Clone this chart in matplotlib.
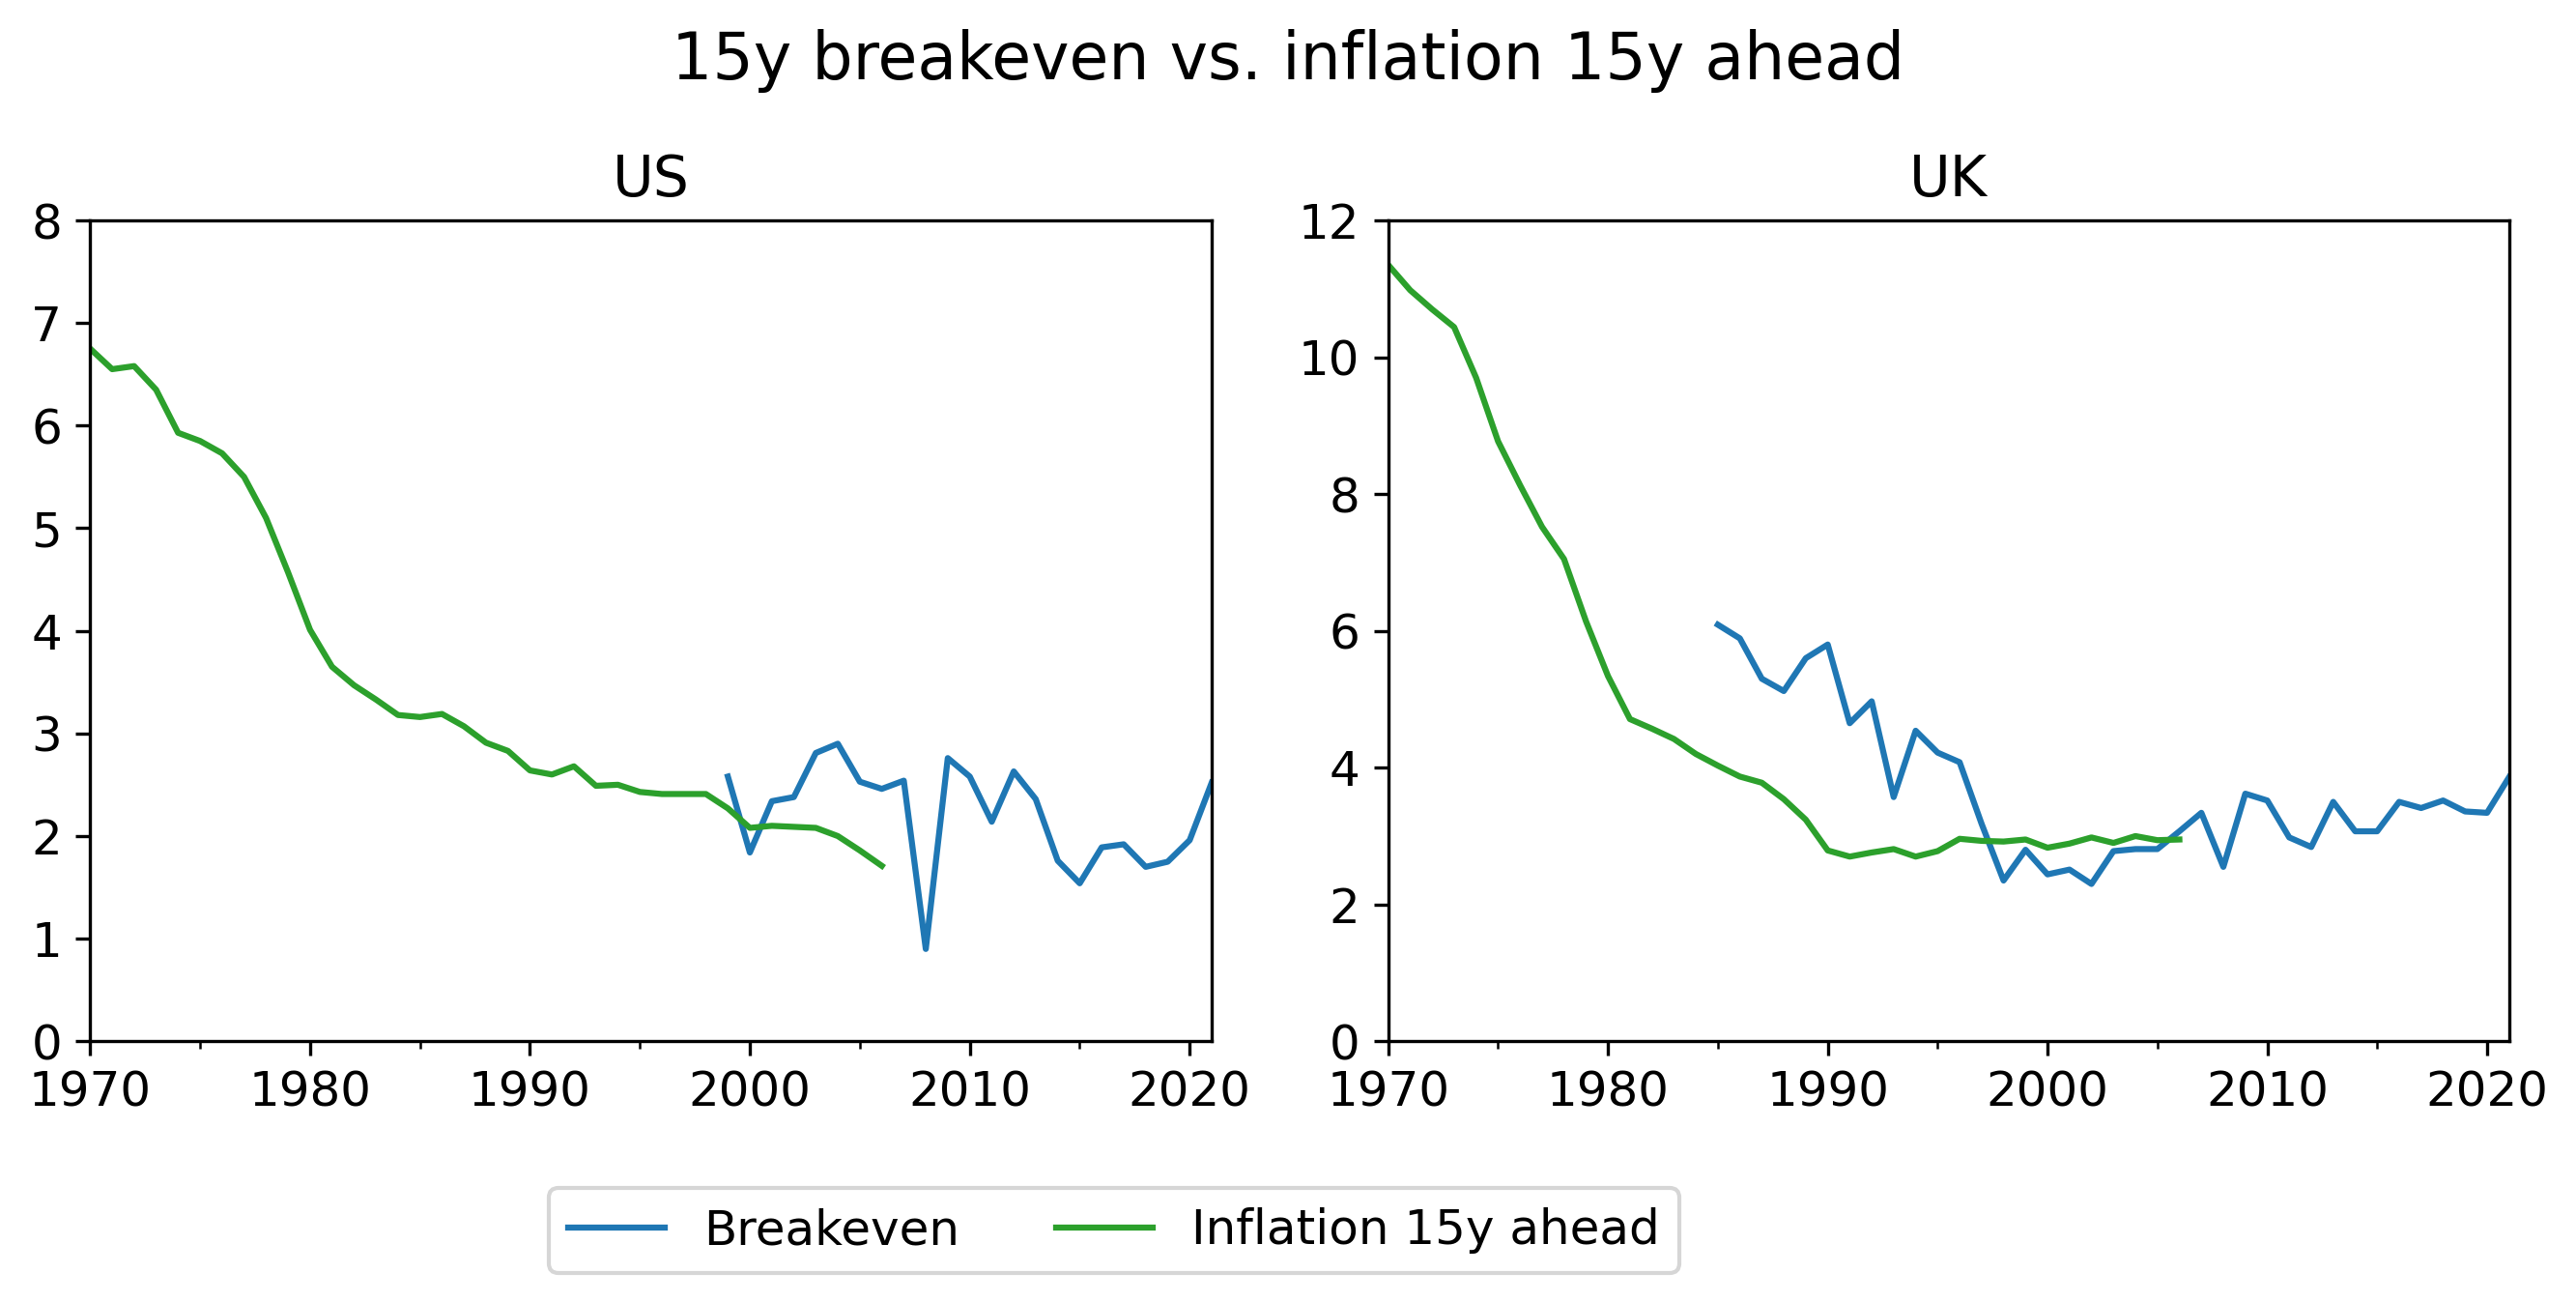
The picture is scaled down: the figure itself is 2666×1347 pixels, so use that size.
"""15y breakeven vs. realised inflation over the following 15 years, US and UK."""
import numpy as np
import matplotlib
matplotlib.use("Agg")
import matplotlib.pyplot as plt
from matplotlib.ticker import MultipleLocator

plt.rcParams["font.size"] = 12

# US: realised inflation 15y ahead (1970-2006) and 15y breakeven (1999-2021)
US_INFL_YEARS = list(range(1970, 2007))
US_INFL = [6.75, 6.55, 6.58, 6.35, 5.93, 5.85, 5.73, 5.50, 5.10, 4.57,
           4.01, 3.65, 3.47, 3.33, 3.18, 3.16, 3.19, 3.07, 2.91, 2.83,
           2.64, 2.60, 2.68, 2.49, 2.50, 2.43, 2.41, 2.41, 2.41, 2.27,
           2.08, 2.10, 2.09, 2.08, 2.00, 1.86, 1.71]
US_BE_YEARS = list(range(1999, 2022))
US_BE = [2.58, 1.84, 2.34, 2.38, 2.81, 2.90, 2.53, 2.46, 2.54, 0.90,
         2.76, 2.58, 2.14, 2.63, 2.36, 1.76, 1.54, 1.89, 1.92, 1.70,
         1.75, 1.96, 2.52]

# UK: realised inflation 15y ahead (1970-2006) and 15y breakeven (1985-2021)
UK_INFL_YEARS = list(range(1970, 2007))
UK_INFL = [11.35, 10.98, 10.70, 10.44, 9.70, 8.77, 8.13, 7.52, 7.05, 6.14,
           5.34, 4.71, 4.57, 4.42, 4.20, 4.03, 3.87, 3.78, 3.54, 3.24,
           2.79, 2.70, 2.76, 2.81, 2.70, 2.78, 2.96, 2.93, 2.92, 2.95,
           2.83, 2.89, 2.98, 2.90, 3.00, 2.94, 2.95]
UK_BE_YEARS = list(range(1985, 2022))
UK_BE = [6.09, 5.89, 5.30, 5.12, 5.60, 5.80, 4.65, 4.97, 3.57, 4.54,
         4.22, 4.08, 3.18, 2.35, 2.80, 2.44, 2.51, 2.30, 2.78, 2.81,
         2.81, 3.07, 3.34, 2.55, 3.62, 3.52, 2.98, 2.84, 3.50, 3.07,
         3.07, 3.50, 3.41, 3.52, 3.36, 3.34, 3.86]

W, H = 2666, 1347
DPI = 300


def px(x0, y0, x1, y1):
    """Pixel box (left, top, right, bottom) -> figure fraction rect."""
    return [x0 / W, 1 - y1 / H, (x1 - x0) / W, (y1 - y0) / H]


fig = plt.figure(figsize=(W / DPI, H / DPI), dpi=DPI)
ax_us = fig.add_axes(px(93.3, 228, 1254, 1077.3))
ax_uk = fig.add_axes(px(1436.7, 228, 2596.7, 1077.3))

panels = [
    (ax_us, "US", US_BE_YEARS, US_BE, US_INFL_YEARS, US_INFL, 8, 1),
    (ax_uk, "UK", UK_BE_YEARS, UK_BE, UK_INFL_YEARS, UK_INFL, 12, 2),
]
for ax, title, be_x, be_y, inf_x, inf_y, ymax, ystep in panels:
    ax.plot(be_x, be_y, color="tab:blue", label="Breakeven")
    ax.plot(inf_x, inf_y, color="tab:green", label="Inflation 15y ahead")
    ax.set_xlim(1970, 2021)
    ax.set_ylim(0, ymax)
    ax.xaxis.set_major_locator(MultipleLocator(10))
    ax.xaxis.set_minor_locator(MultipleLocator(5))
    ax.yaxis.set_major_locator(MultipleLocator(ystep))
    ax.set_title(title, fontsize=14)

fig.text(0.5, 1 - 81.7 / H, "15y breakeven vs. inflation 15y ahead",
         ha="center", va="baseline", fontsize=16)

handles, labels = ax_us.get_legend_handles_labels()
fig.legend(handles, labels, ncol=2, loc="upper left",
           bbox_to_anchor=(568.3 / W, 1 - 1229.3 / H), borderaxespad=0)

fig.savefig("out.png", dpi=DPI)
